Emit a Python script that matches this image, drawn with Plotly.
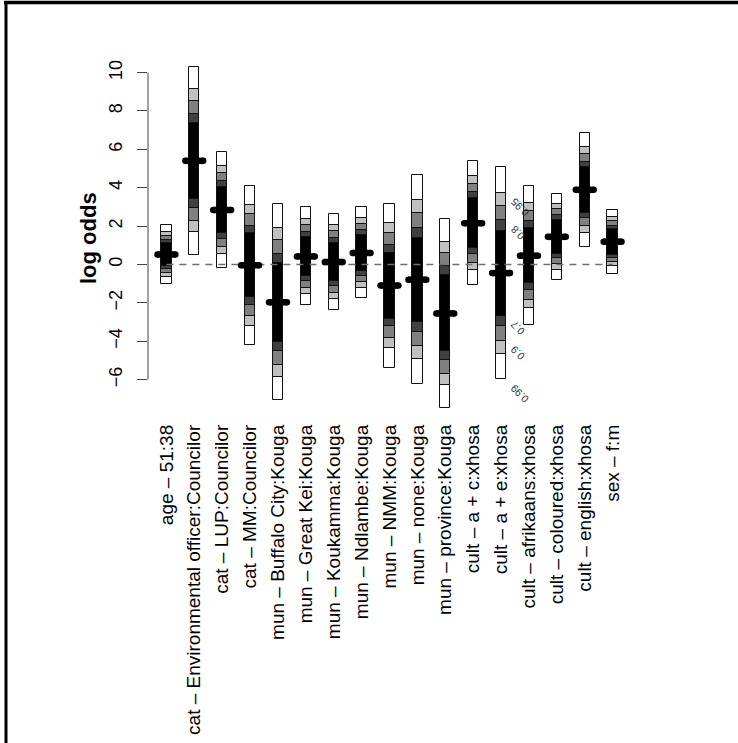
import plotly.graph_objects as go

# ---------------- data ----------------
labels = [
    "age \u2013 51:38",
    "cat \u2013 Environmental officer:Councilor",
    "cat \u2013 LUP:Councilor",
    "cat \u2013 MM:Councilor",
    "mun \u2013 Buffalo City:Kouga",
    "mun \u2013 Great Kei:Kouga",
    "mun \u2013 Koukamma:Kouga",
    "mun \u2013 Ndlambe:Kouga",
    "mun \u2013 NMM:Kouga",
    "mun \u2013 none:Kouga",
    "mun \u2013 province:Kouga",
    "cult \u2013 a + c:xhosa",
    "cult \u2013 a + e:xhosa",
    "cult \u2013 afrikaans:xhosa",
    "cult \u2013 coloured:xhosa",
    "cult \u2013 english:xhosa",
    "sex \u2013 f:m",
]
estimate = [0.52, 5.40, 2.84, -0.04, -1.97, 0.42, 0.13, 0.60, -1.10, -0.79,
            -2.55, 2.15, -0.45, 0.46, 1.44, 3.89, 1.19]
std_err = [0.59, 1.90, 1.17, 1.61, 1.98, 0.99, 0.98, 0.92, 1.66, 2.11,
           1.91, 1.25, 2.14, 1.40, 0.87, 1.15, 0.65]

levels = ["0.99", "0.95", "0.9", "0.8", "0.7"]
z_values = [2.576, 1.960, 1.645, 1.282, 1.036]
level_colors = ["#ffffff", "#c0c0c0", "#808080", "#404040", "#000000"]

# level labels drawn beside the widest bar ("cult - a + e:xhosa")
label_bar = 13
label_levels = ["0.95", "0.8", "0.7", "0.9", "0.99"]
label_sides = [1, 1, -1, -1, -1]

y_ticks = [-6, -4, -2, 0, 2, 4, 6, 8, 10]

# ---------------- layout geometry ----------------
W, H = 738, 743
L, R, T, B = 148, 107, 54, 321
PW, PH = W - L - R, H - T - B
XR = [0.34, 17.66]
YR = [-8.21, 10.97]


def px_x(p):
    return (p - L) / PW


def px_y(p):
    return 1 - (p - T) / PH


pos = list(range(1, len(labels) + 1))
fig = go.Figure()

# dashed reference line at 0
fig.add_trace(go.Scatter(x=[pos[0], pos[-1]], y=[0, 0], mode="lines",
                         line=dict(color="#707070", width=1.5, dash="7px,6px"),
                         hoverinfo="skip", showlegend=False))

# nested interval bars
for lev, z, col in zip(levels, z_values, level_colors):
    base = [e - z * s for e, s in zip(estimate, std_err)]
    height = [2 * z * s for s in std_err]
    fig.add_trace(go.Bar(x=pos, y=height, base=base, width=0.37,
                         marker=dict(color=col, line=dict(color="#111111", width=1)),
                         hoverinfo="skip", showlegend=False, name=lev))

# estimate markers
mx, my = [], []
for p, e in zip(pos, estimate):
    mx += [p - 0.32, p + 0.32, None]
    my += [e, e, None]
fig.add_trace(go.Scatter(x=mx, y=my, mode="lines+markers",
                         line=dict(color="black", width=6.5),
                         marker=dict(color="black", size=6.5, symbol="circle"),
                         hoverinfo="skip", showlegend=False))

# level labels
ann = []
i = label_bar - 1
for lev, side in zip(label_levels, label_sides):
    z = z_values[levels.index(lev)]
    yv = estimate[i] + side * z * std_err[i]
    ann.append(dict(x=pos[i], y=yv, xref="x", yref="y", text=lev,
                    showarrow=False, xanchor="left", yanchor="top",
                    xshift=4, textangle=-135,
                    font=dict(size=10.5, color="#333333",
                              family="Liberation Sans, Arial")))

# axis title
ann.append(dict(x=px_x(88), y=0.5, xref="paper", yref="paper",
                text="<b>log odds</b>", showarrow=False, textangle=-90,
                xanchor="center", yanchor="middle",
                font=dict(size=22, color="black",
                          family="Liberation Sans, Arial")))

shapes = [
    # y axis line (R style: spans tick range only)
    dict(type="line", xref="paper", yref="y", x0=0, x1=0,
         y0=y_ticks[0], y1=y_ticks[-1], line=dict(color="#444444", width=1)),
    # outer frame (top and left)
    dict(type="line", xref="paper", yref="paper", x0=px_x(4), x1=px_x(740),
         y0=px_y(2.5), y1=px_y(2.5), line=dict(color="black", width=3.5)),
    dict(type="line", xref="paper", yref="paper", x0=px_x(6), x1=px_x(6),
         y0=px_y(1), y1=px_y(745), line=dict(color="black", width=3)),
]

fig.update_layout(
    width=W, height=H,
    margin=dict(l=L, r=R, t=T, b=B, autoexpand=False),
    paper_bgcolor="white", plot_bgcolor="white",
    barmode="overlay", bargap=0,
    font=dict(family="Liberation Sans, Arial", color="black"),
    xaxis=dict(range=XR, tickmode="array", tickvals=pos, ticktext=labels,
               tickangle=-90, ticks="", showline=False, showgrid=False,
               zeroline=False, tickfont=dict(size=19, color="black"),
               automargin=False, fixedrange=True, ticklabelstandoff=-2),
    yaxis=dict(range=YR, tickmode="array", tickvals=y_ticks,
               tickangle=-90, ticks="outside", ticklen=10, tickwidth=1,
               tickcolor="#444444", showline=False, showgrid=False,
               zeroline=False, tickfont=dict(size=18, color="black"),
               automargin=False, fixedrange=True, ticklabelstandoff=8),
    annotations=ann,
    shapes=shapes,
    showlegend=False,
)

fig.write_html("out.html")
